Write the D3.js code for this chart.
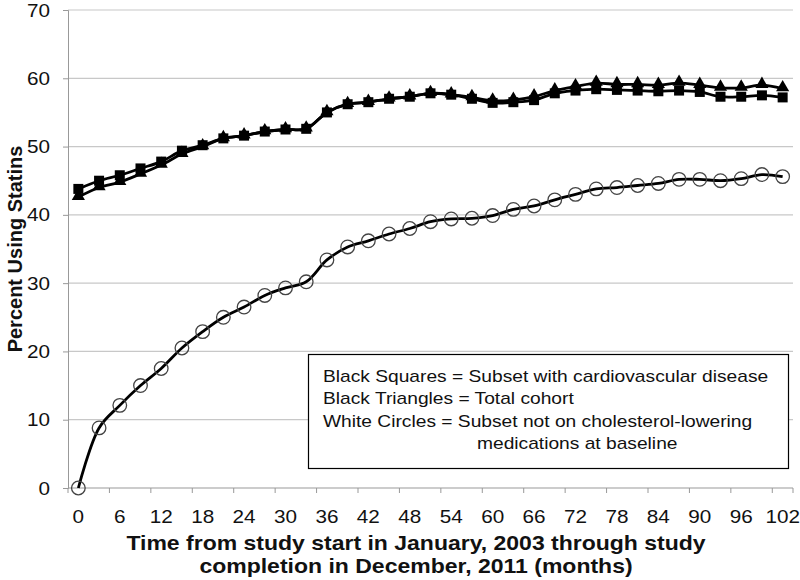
<!DOCTYPE html>
<html><head><meta charset="utf-8">
<script src="https://cdn.jsdelivr.net/npm/d3@7"></script>
<style>body{margin:0;background:#fff}svg{display:block}text{font-family:"Liberation Sans",Arial,sans-serif}</style>
</head><body><svg id="c" width="800" height="580"></svg>
<script>
const months = d3.range(0, 103, 3);
const xTickLabels = [0,6,12,18,24,30,36,42,48,54,60,66,72,78,84,90,96,102];
const yTicks = [0,10,20,30,40,50,60,70];
const squares = [43.8,45.0,45.8,46.8,47.8,49.4,50.2,51.2,51.6,52.2,52.5,52.6,55.0,56.2,56.5,57.0,57.3,57.8,57.6,57.0,56.4,56.5,56.8,57.8,58.2,58.4,58.3,58.2,58.1,58.2,58.0,57.3,57.3,57.5,57.2];
const triangles = [42.6,44.0,44.8,46.0,47.3,48.9,50.0,51.2,51.6,52.2,52.5,52.6,55.0,56.2,56.5,57.0,57.3,57.8,57.6,57.2,56.7,56.8,57.3,58.2,58.8,59.3,59.1,59.1,59.0,59.3,59.0,58.6,58.6,59.0,58.5];
const circles = [0,8.8,12.1,15.0,17.5,20.5,22.9,25.0,26.5,28.2,29.3,30.2,33.4,35.3,36.2,37.2,38.0,39.0,39.4,39.5,39.9,40.8,41.3,42.2,43.0,43.8,44.0,44.3,44.6,45.2,45.2,45.0,45.3,45.9,45.6];
const legendLines = ["Black Squares = Subset with cardiovascular disease","Black Triangles = Total cohort","White Circles = Subset not on cholesterol-lowering"];
const legendCont = "medications at baseline";
const xTitle = ["Time from study start in January, 2003 through study","completion in December, 2011 (months)"];
const yTitle = "Percent Using Statins";

const svg = d3.select("#c");
const L = 68, R = 793, T = 10, B = 488;
const x = d3.scaleBand().domain(months).range([L, R]).paddingInner(0).paddingOuter(0);
const cx = m => x(m) + x.bandwidth()/2;
const y = d3.scaleLinear().domain([0,70]).range([B, T]);

function stext(g, tx, ty, sx, str, size, anchor, bold){
  return g.append("text").attr("transform", `translate(${tx},${ty}) scale(${sx},1)`)
    .attr("text-anchor", anchor).attr("font-size", size).attr("fill", "#111")
    .attr("font-weight", bold ? "bold" : "normal").text(str);
}

// gridlines
svg.append("g").selectAll("line").data(yTicks.filter(d=>d>0)).join("line")
  .attr("x1", L).attr("x2", R).attr("y1", d=>y(d)).attr("y2", d=>y(d))
  .attr("stroke", "#c8c8c8").attr("stroke-width", 1.2);

// y axis
const ya = svg.append("g").attr("transform", `translate(${L},0)`)
  .call(d3.axisLeft(y).tickValues(yTicks).tickSize(5).tickFormat(""));
ya.select(".domain").attr("stroke", "#999");
ya.selectAll(".tick line").attr("stroke", "#999");
yTicks.forEach(v => stext(svg, 50, y(v)+6.5, 1.15, v, 18, "end", false));

// x axis
const xa = svg.append("g").attr("transform", `translate(0,${B})`);
xa.append("line").attr("x1", L).attr("x2", R).attr("y1", 0).attr("y2", 0).attr("stroke", "#999");
const tickPos = months.filter((m,i)=>i%2===0).map(m=>x(m)).concat([R]);
xa.selectAll("line.t").data(tickPos).join("line").attr("class","t")
  .attr("x1", d=>d).attr("x2", d=>d).attr("y1", 0).attr("y2", 5).attr("stroke", "#999");
xTickLabels.forEach(v => stext(svg, cx(v), B+35, 1.15, v, 18, "middle", false));

// titles
stext(svg, 416, 550, 1.18, xTitle[0], 19.5, "middle", true);
stext(svg, 416, 573, 1.18, xTitle[1], 19.5, "middle", true);
svg.append("text").attr("transform", "translate(22,249) rotate(-90)").attr("text-anchor","middle")
  .attr("font-size", 20).attr("font-weight","bold").attr("fill","#111").text(yTitle);

const line = d3.line().x((d,i)=>cx(months[i])).y(d=>y(d)).curve(d3.curveCatmullRom.alpha(0.5));

// triangles
svg.append("path").attr("d", line(triangles)).attr("fill","none").attr("stroke","#000").attr("stroke-width",2.8);
svg.append("g").selectAll("path").data(triangles).join("path")
  .attr("d", d3.symbol().type(d3.symbolTriangle).size(75))
  .attr("transform", (d,i)=>`translate(${cx(months[i])},${y(d)-1})`).attr("fill","#000");

// squares
svg.append("path").attr("d", line(squares)).attr("fill","none").attr("stroke","#000").attr("stroke-width",2.8);
svg.append("g").selectAll("rect").data(squares).join("rect")
  .attr("x", (d,i)=>cx(months[i])-5).attr("y", d=>y(d)-5).attr("width",10).attr("height",10).attr("fill","#000");

// circles
svg.append("path").attr("d", line(circles)).attr("fill","none").attr("stroke","#000").attr("stroke-width",2.8);
svg.append("g").selectAll("circle").data(circles).join("circle")
  .attr("cx", (d,i)=>cx(months[i])).attr("cy", d=>y(d)).attr("r", 6.8)
  .attr("fill","none").attr("stroke","#444").attr("stroke-width",1.3);

// legend
const lg = svg.append("g");
lg.append("rect").attr("x", 308.5).attr("y", 354.5).attr("width", 480).attr("height", 114)
  .attr("fill","#fff").attr("stroke","#000").attr("stroke-width",1.2);
legendLines.forEach((t,i)=> stext(lg, 323, 382 + i*22.3, 1.2, t, 16, "start", false));
stext(lg, 477, 382 + 3*22.3, 1.2, legendCont, 16, "start", false);
</script></body></html>
